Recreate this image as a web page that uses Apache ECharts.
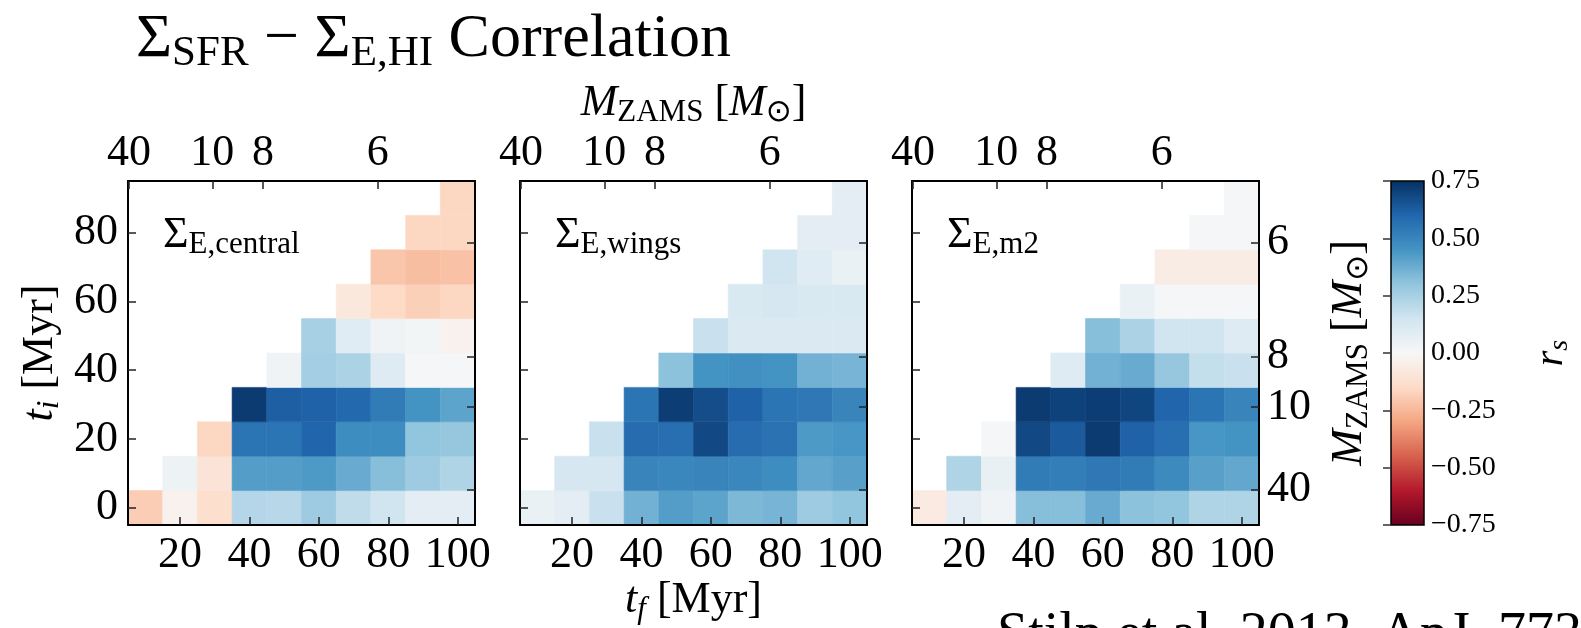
<!DOCTYPE html>
<html>
<head>
<meta charset="utf-8">
<script src="https://cdn.jsdelivr.net/npm/echarts@6/dist/echarts.min.js"></script>
<style>
  html, body { margin: 0; padding: 0; background: #fff; }
  #chart { width: 1581px; height: 628px; }
</style>
</head>
<body>
<div id="chart"></div>
<script>
// Bin centres (Myr)
const tfBins = [10, 20, 30, 40, 50, 60, 70, 80, 90, 100];
const tiBins = [0, 10, 20, 30, 40, 50, 60, 70, 80, 90];
const binWidth = 10;

// Axis ticks
const tfTicks = [20, 40, 60, 80, 100];
const tiTicks = [0, 20, 40, 60, 80];
const massLabels = ['40', '10', '8', '6'];       // M_ZAMS [Msun]
const massAges = [5.3, 29.3, 43.9, 77.0];          // matching lifetimes (Myr)
const rsMin = -0.75, rsMax = 0.75, rsStep = 0.25;

// Spearman r_s per t_i row; each row starts at t_f = t_i + 10
const centralRows = [
  [-0.19, -0.03, -0.13, 0.22, 0.21, 0.27, 0.19, 0.15, 0.08, 0.08],
  [0.04, -0.10, 0.42, 0.42, 0.43, 0.38, 0.32, 0.27, 0.23],
  [-0.16, 0.55, 0.55, 0.60, 0.47, 0.47, 0.30, 0.29],
  [0.72, 0.62, 0.61, 0.59, 0.53, 0.45, 0.40],
  [0.03, 0.26, 0.24, 0.10, 0.01, 0.01],
  [0.25, 0.09, 0.03, 0.02, -0.03],
  [-0.08, -0.15, -0.18, -0.16],
  [-0.21, -0.23, -0.22],
  [-0.16, -0.16],
  [-0.16]
];
const wingsRows = [
  [0.05, 0.08, 0.17, 0.36, 0.42, 0.40, 0.34, 0.35, 0.27, 0.30],
  [0.13, 0.13, 0.50, 0.49, 0.50, 0.49, 0.47, 0.39, 0.41],
  [0.17, 0.58, 0.57, 0.68, 0.58, 0.56, 0.43, 0.44],
  [0.55, 0.71, 0.67, 0.61, 0.55, 0.54, 0.50],
  [0.31, 0.45, 0.46, 0.45, 0.36, 0.35],
  [0.17, 0.11, 0.11, 0.11, 0.11],
  [0.12, 0.13, 0.12, 0.12],
  [0.15, 0.09, 0.05],
  [0.08, 0.08],
  [0.08]
];
const m2Rows = [
  [-0.07, 0.08, 0.03, 0.32, 0.32, 0.38, 0.31, 0.30, 0.23, 0.23],
  [0.23, 0.06, 0.53, 0.52, 0.54, 0.53, 0.48, 0.41, 0.39],
  [0.01, 0.68, 0.63, 0.72, 0.61, 0.57, 0.44, 0.45],
  [0.72, 0.70, 0.71, 0.69, 0.60, 0.55, 0.50],
  [0.10, 0.36, 0.38, 0.29, 0.18, 0.17],
  [0.32, 0.24, 0.15, 0.15, 0.10],
  [0.05, 0.01, 0.01, 0.01],
  [-0.06, -0.06, -0.06],
  [0.01, 0.01],
  [0.01]
];
const panelTags = ['E,central', 'E,wings', 'E,m2'];

// RdBu colour map, low -> high
const RDBU = ['#67001f', '#b2182b', '#d6604d', '#f4a582', '#fddbc7', '#f7f7f7',
              '#d1e5f0', '#92c5de', '#4393c3', '#2166ac', '#053061'];

// ---- layout ----
const SERIF = '"Liberation Serif", "DejaVu Serif", serif';
const INK = '#000';
const PANEL_LEFT = [128, 520, 912];
const PANEL_TOP = 181, PANEL_W = 347, PANEL_H = 344;
const CBAR = { left: 1391, top: 181, width: 33, height: 344 };
const TICK_FONT = 44;

function toCells(rows) {
  const out = [];
  rows.forEach((row, r) => {
    row.forEach((v, k) => out.push([tfBins[r + k], tiBins[r], v]));
  });
  return out;
}

function nearestMass(v) {
  let best = 0;
  massAges.forEach((a, i) => { if (Math.abs(a - v) < Math.abs(massAges[best] - v)) best = i; });
  return massLabels[best];
}

// rich-text styles: normal, italic, lowered subscripts
function richSet(F) {
  const S = Math.round(F * 0.7);
  const L = Math.round(F * 1.4);
  const drop = Math.round(2 * (0.35 * (F - S) + 0.12 * F));
  const base = { fontFamily: SERIF, fill: INK, lineHeight: L };
  return {
    n: Object.assign({ fontSize: F }, base),
    it: Object.assign({ fontSize: F, fontStyle: 'italic' }, base),
    sub: Object.assign({ fontSize: S, padding: [drop, 0, 0, 0] }, base),
    subit: Object.assign({ fontSize: S, fontStyle: 'italic', padding: [drop, 0, 0, 0] }, base),
    sym: { fontSize: S, fontFamily: '"DejaVu Sans", sans-serif', fill: INK, lineHeight: L, padding: [drop, 0, 0, 0] }
  };
}

function richText(text, F, x, y, align, rotation) {
  return {
    type: 'text', x: x, y: y, z: 20, rotation: rotation || 0,
    style: { text: text, rich: richSet(F), fill: INK, align: align || 'left', verticalAlign: 'middle' }
  };
}

const frameLine = { show: true, onZero: false, lineStyle: { color: INK, width: 2 } };
const tickStyle = { color: '#222', width: 1.5 };
const labelBase = { fontFamily: SERIF, fontSize: TICK_FONT, color: INK };

const grids = [], xAxes = [], yAxes = [], series = [];
const panelRows = [centralRows, wingsRows, m2Rows];

panelRows.forEach((rows, i) => {
  grids.push({ left: PANEL_LEFT[i], top: PANEL_TOP, width: PANEL_W, height: PANEL_H });
  // bottom: t_f
  xAxes.push({
    type: 'value', gridIndex: i, position: 'bottom', min: 5, max: 105, z: 5,
    axisLine: frameLine, splitLine: { show: false },
    axisTick: { show: true, inside: true, length: 8, lineStyle: tickStyle, customValues: tfTicks },
    axisLabel: Object.assign({ customValues: tfTicks, margin: 8 }, labelBase)
  });
  // top: M_ZAMS
  xAxes.push({
    type: 'value', gridIndex: i, position: 'top', min: 5, max: 105, z: 5,
    axisLine: frameLine, splitLine: { show: false },
    axisTick: { show: true, inside: true, length: 8, lineStyle: tickStyle, customValues: massAges },
    axisLabel: Object.assign({ customValues: massAges, margin: 6, formatter: nearestMass }, labelBase)
  });
  // left: t_i
  yAxes.push({
    type: 'value', gridIndex: i, position: 'left', min: -5, max: 95, z: 5,
    axisLine: frameLine, splitLine: { show: false },
    axisTick: { show: true, inside: true, length: 8, lineStyle: tickStyle, customValues: tiTicks },
    axisLabel: Object.assign({ show: i === 0, customValues: tiTicks, margin: 10 }, labelBase)
  });
  // right: M_ZAMS
  yAxes.push({
    type: 'value', gridIndex: i, position: 'right', min: -5, max: 95, z: 5,
    axisLine: frameLine, splitLine: { show: false },
    axisTick: { show: true, inside: true, length: 8, lineStyle: tickStyle, customValues: massAges },
    axisLabel: Object.assign({ show: i === 2, customValues: massAges, margin: 8, formatter: nearestMass }, labelBase)
  });
  series.push({
    type: 'custom', xAxisIndex: 2 * i, yAxisIndex: 2 * i, z: 2, clip: true,
    encode: { x: 0, y: 1 },
    data: toCells(rows),
    renderItem: function (params, api) {
      const tf = api.value(0), ti = api.value(1);
      const p0 = api.coord([tf - binWidth / 2, ti + binWidth / 2]);
      const p1 = api.coord([tf + binWidth / 2, ti - binWidth / 2]);
      const c = api.visual('color');
      return {
        type: 'rect',
        shape: { x: p0[0], y: p0[1], width: p1[0] - p0[0], height: p1[1] - p0[1] },
        style: { fill: c, stroke: c, lineWidth: 0.6 }
      };
    }
  });
});

// colour bar
grids.push({ left: CBAR.left, top: CBAR.top, width: CBAR.width, height: CBAR.height });
xAxes.push({ type: 'value', gridIndex: 3, min: 0, max: 1, show: false });
yAxes.push({
  type: 'value', gridIndex: 3, position: 'right', min: rsMin, max: rsMax, interval: rsStep, z: 5,
  axisLine: { show: false }, splitLine: { show: false },
  axisTick: { show: true, inside: true, length: 8, lineStyle: { color: '#333', width: 1.5 } },
  axisLabel: {
    fontFamily: SERIF, fontSize: 28, color: INK, margin: 7,
    formatter: v => (v < 0 ? '\u2212' : '') + Math.abs(v).toFixed(2)
  }
});
series.push({
  type: 'custom', xAxisIndex: 6, yAxisIndex: 6, z: 2,
  data: [[0.5, 0]],
  renderItem: function (params) {
    const cs = params.coordSys;
    const stops = RDBU.slice().reverse().map((c, k) => ({ offset: k / (RDBU.length - 1), color: c }));
    return {
      type: 'rect',
      shape: { x: cs.x, y: cs.y, width: cs.width, height: cs.height },
      style: { fill: new echarts.graphic.LinearGradient(0, 0, 0, 1, stops), stroke: INK, lineWidth: 1.5 }
    };
  }
});

// titles and axis names
const midY = PANEL_TOP + PANEL_H / 2;
const midX = PANEL_LEFT[1] + PANEL_W / 2;
const graphics = [
  richText('{n|Σ}{sub|SFR}{n| − Σ}{sub|E,HI}{n| Correlation}', 62, 136, 40),
  richText('{it|M}{sub|ZAMS}{n| [}{it|M}{sym|⊙}{n|]}', 44, midX, 103, 'center'),
  richText('{it|t}{subit|f}{n| [Myr]}', 44, midX, 600, 'center'),
  richText('{it|t}{subit|i}{n| [Myr]}', 44, 40, midY, 'center', Math.PI / 2),
  richText('{it|M}{sub|ZAMS}{n| [}{it|M}{sym|⊙}{n|]}', 44, 1349, midY, 'center', Math.PI / 2),
  richText('{it|r}{subit|s}', 40, 1551, midY, 'center', Math.PI / 2),
  { type: 'text', x: 997, y: 608, z: 20,
    style: { text: 'Stilp et al. 2013, ApJ, 773', fontFamily: SERIF, fontSize: 56, fill: INK, align: 'left', verticalAlign: 'top' } }
];
panelTags.forEach((tag, i) => {
  graphics.push(richText('{n|Σ}{sub|' + tag + '}', 44, PANEL_LEFT[i] + 35, 235));
});

const chart = echarts.init(document.getElementById('chart'), null, { renderer: 'canvas' });
chart.setOption({
  animation: false,
  backgroundColor: '#fff',
  grid: grids,
  xAxis: xAxes,
  yAxis: yAxes,
  visualMap: {
    type: 'continuous', show: false, min: rsMin, max: rsMax, dimension: 2,
    seriesIndex: [0, 1, 2], inRange: { color: RDBU }
  },
  series: series,
  graphic: graphics
});
</script>
</body>
</html>
